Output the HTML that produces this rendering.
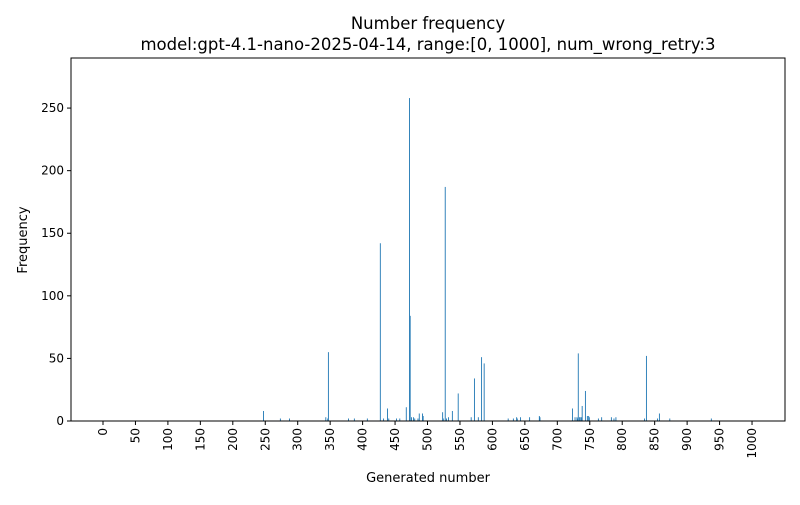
<!DOCTYPE html>
<html><head><meta charset="utf-8"><style>
body{margin:0;background:#fff;font-family:"Liberation Sans","DejaVu Sans",sans-serif}
svg text{font-family:"DejaVu Sans","Liberation Sans",sans-serif;fill:#000}
</style></head><body>
<svg id="chart" width="800" height="500" viewBox="0 0 800 500" xmlns="http://www.w3.org/2000/svg">
<rect width="800" height="500" fill="#fff"/>
<text x="428" y="29" font-size="16.5" text-anchor="middle">Number frequency</text>
<text x="428" y="50" font-size="16.5" text-anchor="middle">model:gpt-4.1-nano-2025-04-14, range:[0, 1000], num_wrong_retry:3</text>
<g id="bars"></g>
<g id="axes"></g>
<text x="428" y="482" font-size="13" text-anchor="middle">Generated number</text>
<text transform="translate(27,240) rotate(-90)" font-size="13" text-anchor="middle">Frequency</text>
</svg>
<script>
const numbers=[247,273,287,343,346,347,378,387,407,427,432,438,440,452,457,467,472,473,475,478,480,485,487,492,493,523,524,527,529,532,538,547,567,572,578,583,587,624,632,637,638,643,657,672,673,723,727,730,731,732,734,735,737,738,743,746,748,749,763,768,783,787,790,834,837,854,857,873,937];
const counts=[8,2,2,3,2,55,2,2,2,142,2,10,2,2,2,11,258,84,3,3,2,2,6,6,4,7,2,187,2,3,8,22,3,34,3,51,46,2,2,3,2,3,3,4,3,10,3,3,2,54,3,3,3,12,24,4,4,3,2,3,3,2,3,2,52,2,6,2,2];
const xTicks=[0,50,100,150,200,250,300,350,400,450,500,550,600,650,700,750,800,850,900,950,1000];
const yTicks=[0,50,100,150,200,250];
const L=71,R=785,T=58,B=421;
const x0=-49.3,x1=1050.8,yMax=290;
const xs=v=>L+(v-x0)/(x1-x0)*(R-L);
const ys=v=>B-v/yMax*(B-T);
const NS="http://www.w3.org/2000/svg";
const bars=document.getElementById('bars'),axes=document.getElementById('axes');
function mk(tag,attrs,parent){const e=document.createElementNS(NS,tag);for(const k in attrs)e.setAttribute(k,attrs[k]);parent.appendChild(e);return e;}
numbers.forEach((n,i)=>{
  const w=0.8*(R-L)/(x1-x0);
  const r=mk('rect',{x:xs(n)-w/2,y:ys(counts[i]),width:Math.max(w,0.9),height:B-ys(counts[i]),fill:'#1f77b4'},bars);
  
  
});
const frame=mk('rect',{x:L,y:T,width:R-L,height:B-T,fill:'none',stroke:'#000','stroke-width':1},axes);


xTicks.forEach(t=>{
  const x=xs(t);
  mk('line',{x1:x,x2:x,y1:B,y2:B+4,stroke:'#000'},axes);
  const tx=mk('text',{transform:`translate(${x+4},${B+7}) rotate(-90)`,'font-size':12,'text-anchor':'end'},axes);
  tx.textContent=t;
  
  
});
yTicks.forEach(t=>{
  const y=ys(t);
  mk('line',{x1:L-4,x2:L,y1:y,y2:y,stroke:'#000'},axes);
  const tx=mk('text',{x:L-7,y:y+4,'font-size':12,'text-anchor':'end'},axes);
  tx.textContent=t;
  
  
});
</script>
</body></html>
